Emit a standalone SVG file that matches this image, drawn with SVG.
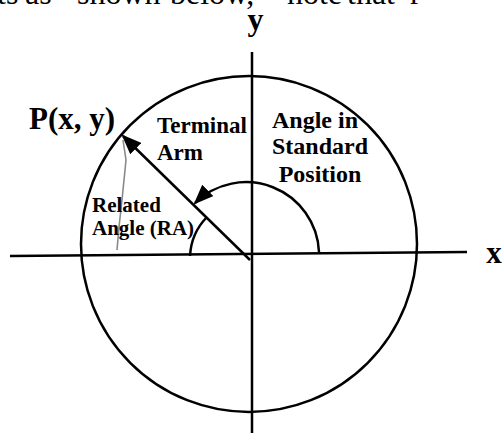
<svg xmlns="http://www.w3.org/2000/svg" width="503" height="433" viewBox="0 0 503 433">
  <style>
    .ln { fill: none; stroke: #000; stroke-width: 2.5; }
    .b { font-family: "Liberation Serif", "Times New Roman", serif; font-weight: bold; fill: #000; }
    .r { font-family: "Liberation Serif", "Times New Roman", serif; fill: #000; font-size: 32px; }
    .pencil { fill: none; stroke: #8a8a8a; stroke-width: 1.6; }
  </style>
  <defs>
    <marker id="arrow" markerUnits="userSpaceOnUse" markerWidth="20" markerHeight="16" viewBox="0 0 20 16" refX="18" refY="8" orient="auto">
      <path d="M0,0 L20,8 L0,16 Z" fill="#000"/>
    </marker>
  </defs>
  <rect width="503" height="433" fill="#fff"/>

  <g id="top-text">
    <text class="r" y="4"><tspan x="-3">ts</tspan><tspan x="25">as</tspan><tspan x="77">shown</tspan><tspan x="170">below,</tspan><tspan x="287">note</tspan><tspan x="347">that</tspan><tspan x="410">r</tspan></text>
  </g>

  <g id="axes">
    <line class="ln" x1="10" y1="256" x2="467" y2="252"/>
    <line class="ln" x1="252" y1="52" x2="252" y2="433"/>
    <text class="b" x="255.5" y="30" font-size="32" text-anchor="middle">y</text>
    <text class="b" x="494" y="263" font-size="31" text-anchor="middle">x</text>
  </g>

  <g id="unit-circle">
    <circle class="ln" cx="249" cy="244" r="168"/>
  </g>

  <g id="connectors">
    <line class="ln" x1="250" y1="260" x2="123" y2="136" marker-end="url(#arrow)"/>
    <path class="ln" d="M319,252 A73,73 0 0 0 195,203" marker-end="url(#arrow)"/>
    <path class="ln" d="M190,256 A60,60 0 0 1 207,217"/>
    <polyline class="pencil" points="123,140 126,160 124,180 122,200 119,227 117,250"/>
  </g>

  <g id="point-label">
    <text class="b" x="29" y="129" font-size="31">P(x, y)</text>
  </g>

  <g id="terminal-arm-label">
    <text class="b" x="157" y="133" font-size="23">Terminal</text>
    <text class="b" x="157" y="160" font-size="23">Arm</text>
  </g>

  <g id="standard-angle-label">
    <text class="b" x="315" y="128" font-size="24" text-anchor="middle">Angle in</text>
    <text class="b" x="320" y="154" font-size="24" text-anchor="middle">Standard</text>
    <text class="b" x="320" y="182" font-size="24" text-anchor="middle">Position</text>
  </g>

  <g id="related-angle-label">
    <text class="b" x="92" y="212" font-size="21">Related</text>
    <text class="b" x="92" y="235" font-size="21">Angle (RA)</text>
  </g>
</svg>
